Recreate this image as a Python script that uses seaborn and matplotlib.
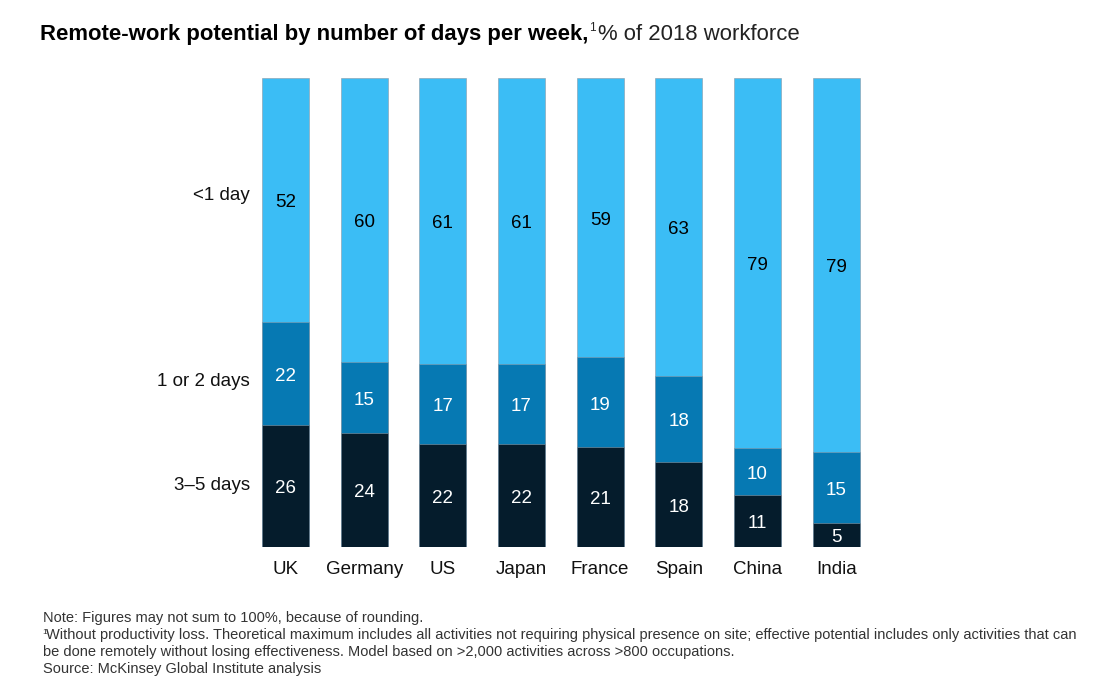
import numpy as np
import pandas as pd
import matplotlib
matplotlib.use("Agg")
import matplotlib.pyplot as plt
import seaborn as sns

countries = ["UK", "Germany", "US", "Japan", "France", "Spain", "China", "India"]
days_3_5 = [26, 24, 22, 22, 21, 18, 11, 5]
days_1_2 = [22, 15, 17, 17, 19, 18, 10, 15]
days_lt1 = [52, 60, 61, 61, 59, 63, 79, 79]
seg_names = ["3\u20135 days", "1 or 2 days", "<1 day"]

df = pd.DataFrame({"country": countries, "d35": days_3_5, "d12": days_1_2, "d1": days_lt1})
# bars are drawn as share of total so every bar reaches 100
tot = df[["d35", "d12", "d1"]].sum(axis=1)
for c in ["d35", "d12", "d1"]:
    df[c + "_s"] = df[c] / tot * 100
df["c1"] = df["d35_s"]
df["c2"] = df["c1"] + df["d12_s"]
df["c3"] = df["c2"] + df["d1_s"]

sns.set_style("white")
plt.rcParams["font.family"] = ["Liberation Sans", "DejaVu Sans"]

colors = ["#051c2c", "#0679b3", "#3bbdf5"]
fig = plt.figure(figsize=(11.04, 6.94), dpi=100)
ax = fig.add_axes([0.223, 0.212, 0.570, 0.676])

for col, colr in zip(["c3", "c2", "c1"], colors[::-1]):
    sns.barplot(data=df, x="country", y=col, color=colr, width=0.6, ax=ax,
                saturation=1, edgecolor="#8a9aa8", linewidth=0.4)

ax.set_xlim(-0.5, 7.5)
ax.set_ylim(0, 100)
sns.despine(ax=ax, left=True, bottom=True)
ax.set_yticks([])
ax.set_xlabel("")
ax.set_ylabel("")
ax.tick_params(axis="x", length=0, labelsize=13.5, pad=10, colors="#111111")

# segment value labels
for i, row in df.iterrows():
    segs = [(0, row["c1"], row["d35"], "white"),
            (row["c1"], row["c2"], row["d12"], "white"),
            (row["c2"], row["c3"], row["d1"], "black")]
    for lo, hi, v, tc in segs:
        ax.text(i, (lo + hi) / 2 - 0.6, f"{v}", ha="center", va="center", fontsize=13.5, color=tc)

# category labels aligned to UK segments
r0 = df.iloc[0]
mids = [r0["c1"] / 2, (r0["c1"] + r0["c2"]) / 2 - 1.8, (r0["c2"] + r0["c3"]) / 2 + 0.8]
for name, m in zip(seg_names, mids):
    ax.text(-0.45, m, name, ha="right", va="center", fontsize=13.5, color="#111111")

# title with superscript
fig.canvas.draw()
r = fig.canvas.get_renderer()
t1 = fig.text(40 / 1104, 1 - 40 / 694, "Remote-work potential by number of days per week,",
              fontsize=15.9, fontweight="bold", color="#000000", va="baseline")
bb = t1.get_window_extent(renderer=r)
t2 = fig.text(bb.x1 / 1104 + 0.0005, 1 - 31 / 694, "1", fontsize=8.5, va="baseline")
bb2 = t2.get_window_extent(renderer=r)
fig.text(bb2.x1 / 1104 + 0.002, 1 - 40 / 694, "% of 2018 workforce", fontsize=15.9,
         color="#222222", va="baseline")

# footnotes
fc = "#333333"
fs = 10.5
fig.text(43 / 1104, 1 - 622 / 694, "Note: Figures may not sum to 100%, because of rounding.",
         fontsize=fs, color=fc, va="baseline")
fig.text(42 / 1104, 1 - 634 / 694, "1", fontsize=6, color=fc, va="baseline")
fig.text(46 / 1104, 1 - 639 / 694,
         "Without productivity loss. Theoretical maximum includes all activities not requiring physical presence on site; "
         "effective potential includes only activities that can",
         fontsize=fs, color=fc, va="baseline")
fig.text(43 / 1104, 1 - 656 / 694,
         "be done remotely without losing effectiveness. Model based on >2,000 activities across >800 occupations.",
         fontsize=fs, color=fc, va="baseline")
fig.text(43 / 1104, 1 - 673 / 694, "Source: McKinsey Global Institute analysis",
         fontsize=fs, color=fc, va="baseline")

fig.savefig("out.png", dpi=100)
